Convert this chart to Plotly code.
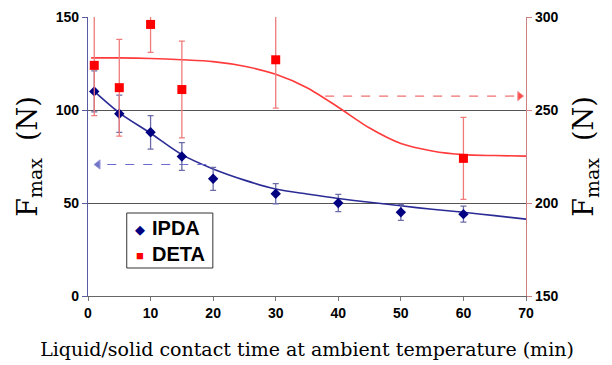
import plotly.graph_objects as go

# ---- data ----
ipda_x = [1, 5, 10, 15, 20, 30, 40, 50, 60]
ipda_y = [110, 98, 88, 75, 63, 55, 50, 45, 44]
ipda_err = [11, 10, 9, 7.5, 6.2, 5.4, 4.6, 4.3, 4.3]

deta_x = [1, 5, 10, 15, 30, 60]
deta_y = [274, 262, 296, 261, 277, 224]           # right axis
deta_err = [27, 26, 15, 26, 26, 22]

ipda_fit_x = [1, 5, 10, 15, 20, 25, 30, 35, 40, 45, 50, 55, 60, 65, 70]
ipda_fit_y = [110, 98.5, 87.5, 76, 68.3, 62.3, 57.5, 54.8, 52.4, 50.4, 48.5, 46.6, 45.0, 43.2, 41.3]

deta_fit_x = [0.5, 5, 10, 15, 20, 25, 30, 35, 40, 45, 50, 55, 60, 65, 70]
deta_fit_y = [278, 278, 277.7, 277, 276, 273.5, 269.2, 262, 251.5, 240.3, 232, 228, 226, 225.5, 225.2]

arrow_ipda_x = [18.9, 1.6]
arrow_ipda_y = [70.7, 70.7]
arrow_deta_x = [37.9, 69.0]
arrow_deta_y = [257.5, 257.5]

x_ticks = [0, 10, 20, 30, 40, 50, 60, 70]
y_left_ticks = [0, 50, 100, 150]
y_right_ticks = [150, 200, 250, 300]

legend_names = ["IPDA", "DETA"]

BLUE = "#000080"
BLUE_LINE = "#2b2b96"
BLUE_ERR = "#6b6ba8"
RED = "#ff0000"
RED_LINE = "#ff3b3b"
RED_ERR = "#ef7b7b"

tickfont = dict(family="Liberation Sans", size=14, color="black", weight="bold")
serif = "DejaVu Serif"

fig = go.Figure()

# fitted curves
fig.add_trace(go.Scatter(x=ipda_fit_x, y=ipda_fit_y, mode="lines",
                         line=dict(color=BLUE_LINE, width=1.6, shape="spline", smoothing=0.8),
                         showlegend=False, hoverinfo="skip"))
fig.add_trace(go.Scatter(x=deta_fit_x, y=deta_fit_y, mode="lines", yaxis="y2",
                         line=dict(color=RED_LINE, width=1.6, shape="spline", smoothing=0.8),
                         showlegend=False, hoverinfo="skip"))

# dashed arrows
fig.add_trace(go.Scatter(x=arrow_ipda_x, y=arrow_ipda_y, mode="lines+markers",
                         line=dict(color="#6a6ad0", width=1.2, dash="dash"),
                         marker=dict(symbol=["circle", "triangle-left"], size=[0, 8], color="#3a3ab0"),
                         showlegend=False, hoverinfo="skip"))
fig.add_trace(go.Scatter(x=arrow_deta_x, y=arrow_deta_y, mode="lines+markers", yaxis="y2",
                         line=dict(color="#f07070", width=1.2, dash="dash"),
                         marker=dict(symbol=["circle", "triangle-right"], size=[0, 8], color=RED),
                         showlegend=False, hoverinfo="skip"))

# data points
fig.add_trace(go.Scatter(x=ipda_x, y=ipda_y, mode="markers", name=legend_names[0],
                         marker=dict(symbol="diamond", size=8, color=BLUE),
                         error_y=dict(type="data", array=ipda_err, color=BLUE_ERR, thickness=1.3, width=3),
                         showlegend=False))
fig.add_trace(go.Scatter(x=deta_x, y=deta_y, mode="markers", name=legend_names[1], yaxis="y2",
                         marker=dict(symbol="square", size=9, color=RED),
                         error_y=dict(type="data", array=deta_err, color=RED_ERR, thickness=1.3, width=3),
                         showlegend=False))

# The page body has an 8px default margin, so reference pixel p -> figure coord p - 8
OFF = 8
W, H = 612, 365
PL, PR, PT, PB = 88.3, 525.8, 17, 296   # plot area in reference pixels
L, T = PL - OFF, PT - OFF
PW, PH = PR - PL, PB - PT
R = W - L - PW
B = H - T - PH


def px(x):
    return (x - PL) / PW


def py(y):
    return (PB - y) / PH


fig.update_layout(
    width=W, height=H,
    margin=dict(l=L, r=R, t=T, b=B, autoexpand=False),
    paper_bgcolor="white", plot_bgcolor="white",
    showlegend=False,
    xaxis=dict(range=[0, 70], tickvals=x_ticks, ticks="outside", ticklen=4, tickcolor="#777",
               showline=True, linecolor="#666", linewidth=1, showgrid=False, zeroline=False,
               tickfont=tickfont, automargin=False,
               title=dict(text="Liquid/solid contact time at ambient temperature (min)",
                          font=dict(family=serif, size=19, color="black"), standoff=22)),
    yaxis=dict(range=[0, 150], tickvals=y_left_ticks, ticks="outside", ticklen=5, tickcolor="#5a5aa0",
               showline=True, linecolor="#5a5aa0", linewidth=1.3, showgrid=True, gridcolor="#555",
               gridwidth=1, zeroline=False, tickfont=tickfont, automargin=False,
               title=dict(text="F<sub>max</sub>&nbsp;&nbsp;(N)", font=dict(family=serif, size=27, color="black"),
                          standoff=10)),
    yaxis2=dict(range=[150, 300], tickvals=y_right_ticks, overlaying="y", side="right",
                ticks="outside", ticklen=5, tickcolor="#d08080",
                showline=True, linecolor="#d08080", linewidth=1.3, showgrid=False, zeroline=False,
                tickfont=tickfont, automargin=False,
                title=dict(text="F<sub>max</sub>&nbsp;&nbsp;(N)", font=dict(family=serif, size=27, color="black"),
                           standoff=16)),
)

# manual legend box (matches reference's compact legend)
fig.add_shape(type="rect", xref="paper", yref="paper",
              x0=px(127), x1=px(213), y0=py(268), y1=py(213),
              line=dict(color="#333", width=1), fillcolor="white", layer="above")
legfont = dict(family="Liberation Sans", size=20, color="black", weight="bold")
fig.add_annotation(text="◆", xref="paper", yref="paper", x=px(140), y=py(229),
                   showarrow=False, font=dict(size=13, color=BLUE), xanchor="center", yanchor="middle")
fig.add_annotation(text=legend_names[0], xref="paper", yref="paper", x=px(150), y=py(228),
                   showarrow=False, font=legfont, xanchor="left", yanchor="middle")
fig.add_annotation(text="■", xref="paper", yref="paper", x=px(140), y=py(255),
                   showarrow=False, font=dict(size=13, color=RED), xanchor="center", yanchor="middle")
fig.add_annotation(text=legend_names[1], xref="paper", yref="paper", x=px(150), y=py(254),
                   showarrow=False, font=legfont, xanchor="left", yanchor="middle")

# stray clipped tick label at far left bottom (present in reference)
fig.add_annotation(text="0", xref="paper", yref="paper", x=px(9), y=py(317),
                   showarrow=False, font=tickfont, xanchor="right", yanchor="middle")

fig.write_html("out.html")
